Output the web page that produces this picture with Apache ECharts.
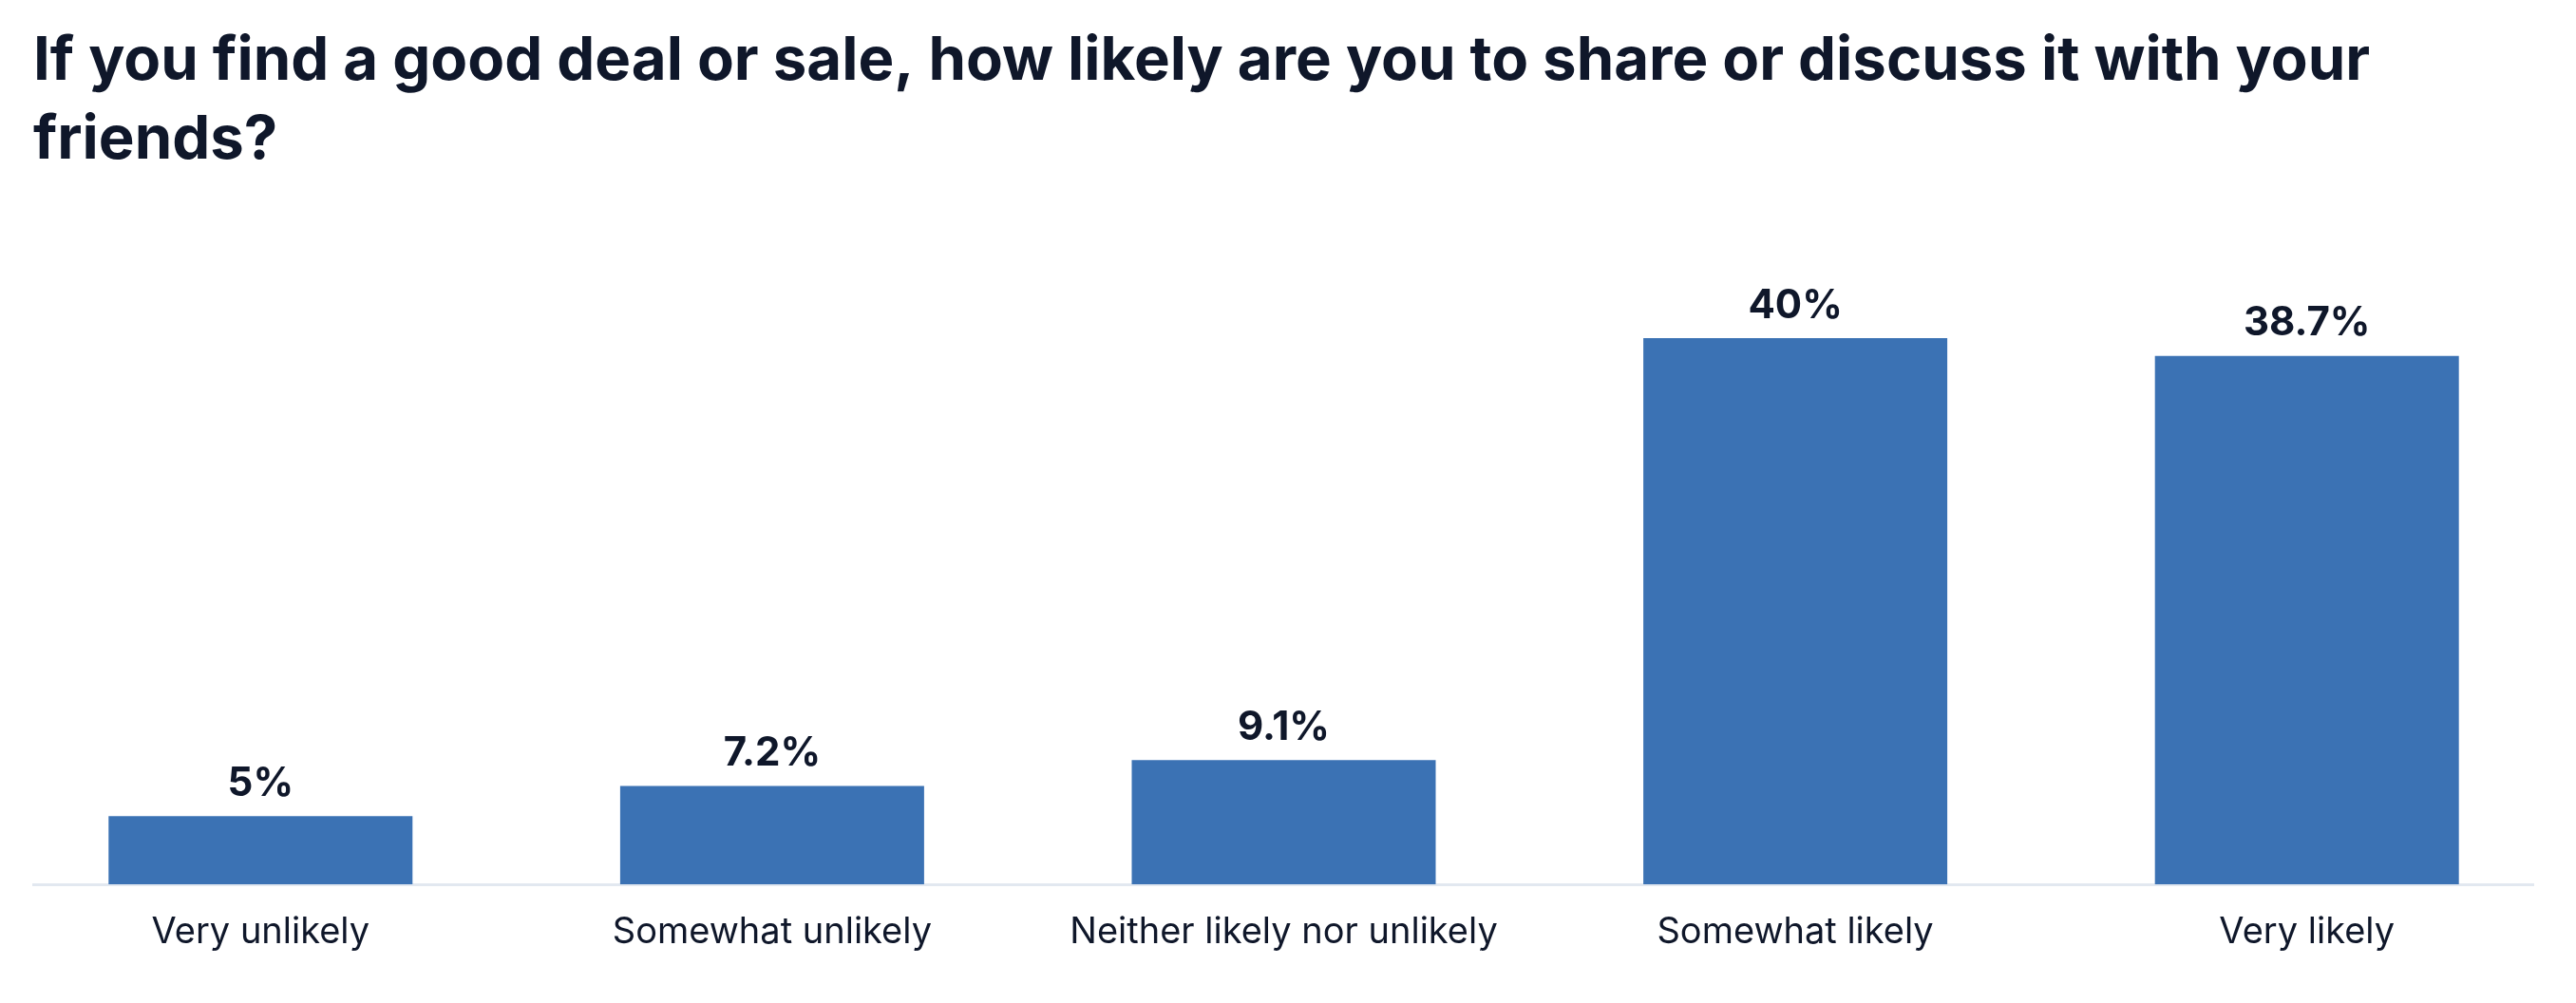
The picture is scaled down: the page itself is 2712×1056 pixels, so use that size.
<!DOCTYPE html>
<html>
<head>
<meta charset="utf-8">
<script src="https://cdn.jsdelivr.net/npm/echarts@6/dist/echarts.min.js"></script>
<style>html,body{margin:0;padding:0;background:#fff;}#c{width:2712px;height:1056px;}</style>
</head>
<body>
<div id="c"></div>
<script>
const titleText = "If you find a good deal or sale, how likely are you to share or discuss it with your\nfriends?";
const categories = ["Very unlikely", "Somewhat unlikely", "Neither likely nor unlikely", "Somewhat likely", "Very likely"];
const values = [5, 7.2, 9.1, 40, 38.7];

const chart = echarts.init(document.getElementById('c'), null, {renderer: 'canvas'});
chart.setOption({
  backgroundColor: '#ffffff',
  animation: false,
  title: {
    text: titleText,
    left: 30,
    top: 18,
    textStyle: {fontFamily: 'Inter', fontWeight: 'bold', fontSize: 63.5, lineHeight: 83, color: '#0f172a'}
  },
  grid: {left: 5, right: 14, top: 356, bottom: 125, containLabel: false},
  xAxis: {
    type: 'category',
    data: categories,
    axisLine: {show: false},
    axisTick: {show: false},
    axisLabel: {interval: 0, hideOverlap: false, fontFamily: 'Inter', fontSize: 38, color: '#0f172a', margin: 32}
  },
  yAxis: {type: 'value', min: 0, max: 40, show: false, splitLine: {show: false}},
  graphic: [{
    type: 'rect', left: 34, top: 930, z: 0,
    shape: {width: 2634, height: 3},
    style: {fill: '#e2e8f0'}
  }],
  series: [{
    type: 'bar',
    data: values,
    barWidth: 320,
    z: 5,
    itemStyle: {color: '#3b72b4'},
    label: {
      show: true, position: 'top', distance: 13,
      formatter: p => p.value + '%',
      fontFamily: 'Inter', fontWeight: 'bold', fontSize: 42, color: '#0f172a'
    }
  }]
});
</script>
</body>
</html>
